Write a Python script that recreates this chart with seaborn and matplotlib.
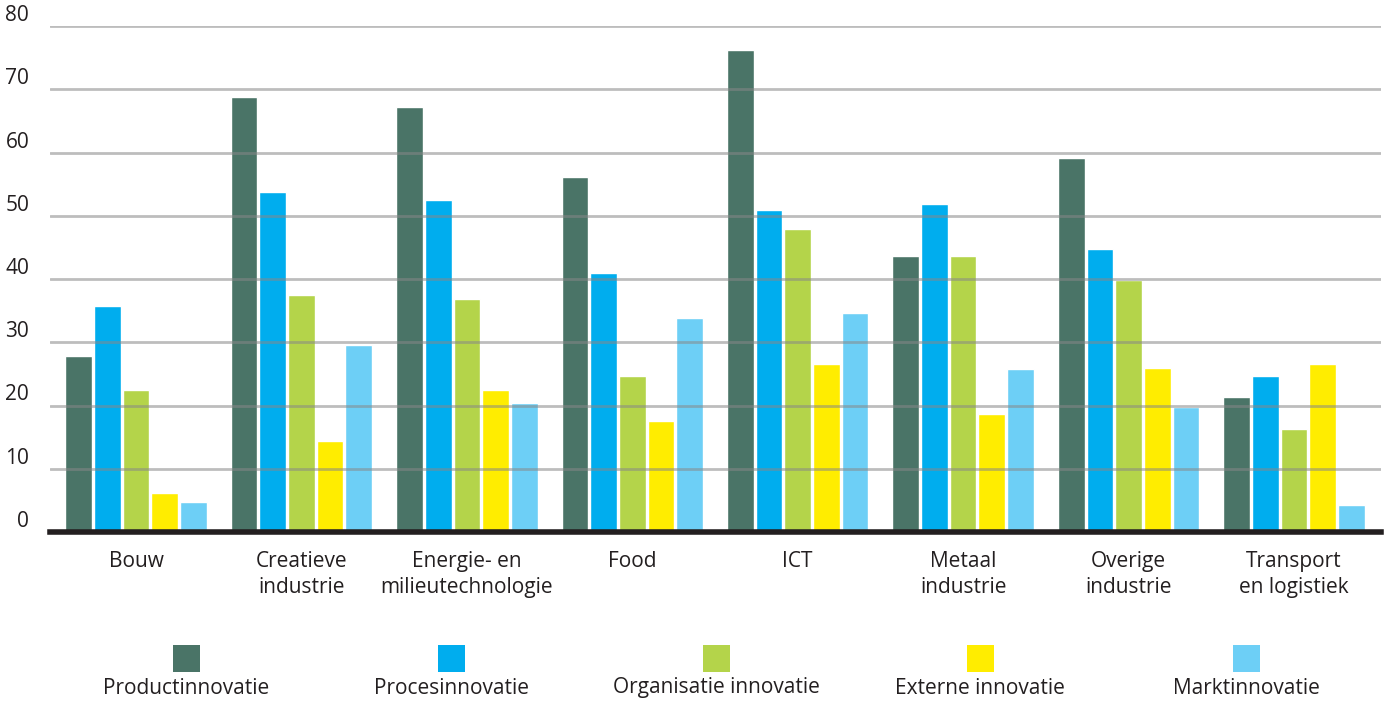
import matplotlib
matplotlib.use("Agg")
import matplotlib.pyplot as plt
from matplotlib.patches import Rectangle
import pandas as pd
import seaborn as sns

sns.set_theme(style="white")
plt.rcParams['font.family'] = ['Open Sans', 'DejaVu Sans']

# data
sectors = ["Bouw", "Creatieve\nindustrie", "Energie- en\nmilieutechnologie", "Food",
           "ICT", "Metaal\nindustrie", "Overige\nindustrie", "Transport\nen logistiek"]
series = ["Productinnovatie", "Procesinnovatie", "Organisatie innovatie",
          "Externe innovatie", "Marktinnovatie"]
product = [27.9, 68.8, 67.2, 56.1, 76.2, 43.7, 59.1, 21.4]
proces = [35.8, 53.7, 52.5, 40.9, 50.9, 51.8, 44.7, 24.7]
organisatie = [22.5, 37.4, 36.8, 24.7, 47.9, 43.7, 39.9, 16.3]
extern = [6.2, 14.4, 22.5, 17.6, 26.6, 18.7, 26.0, 26.6]
markt = [4.75, 29.6, 20.4, 33.9, 34.7, 25.8, 19.8, 4.3]
colors = ["#4a7467", "#00adee", "#b4d44a", "#ffed00", "#6dcff6"]

rows = []
for name, vals in zip(series, [product, proces, organisatie, extern, markt]):
    for s, v in zip(sectors, vals):
        rows.append({"sector": s, "serie": name, "waarde": v})
df = pd.DataFrame(rows)

fig = plt.figure(figsize=(13.87, 7.02), dpi=100)
ax = fig.add_axes([50 / 1387, 170 / 702, 1331 / 1387, 506 / 702])

sns.barplot(data=df, x="sector", y="waarde", hue="serie", hue_order=series,
            palette=colors, width=0.867, gap=0.07, ax=ax, legend=False,
            saturation=1, zorder=2)

ax.set_xlim(-0.52, 7.526)
ax.set_ylim(0, 80)
ax.set_yticks(range(0, 81, 10))
ax.yaxis.grid(True, color="#888888", alpha=0.55, linewidth=2, zorder=3)
ax.set_axisbelow(False)
for sp in ["top", "right", "left"]:
    ax.spines[sp].set_visible(False)
ax.spines["bottom"].set_color("#231f20")
ax.spines["bottom"].set_linewidth(4)
ax.spines["bottom"].set_zorder(5)

ax.set_xlabel("")
ax.set_ylabel("")
ax.tick_params(axis="x", length=0, pad=14, labelsize=15, labelcolor="#231f20")
ax.tick_params(axis="y", length=0, pad=15, labelsize=15, labelcolor="#231f20")
for lab in ax.get_yticklabels():
    lab.set_verticalalignment("bottom")
for lab in ax.get_xticklabels():
    lab.set_linespacing(1.3)

# legend: swatch above label
legend_x = [186, 451, 716, 980, 1246]
for xc, name, col in zip(legend_x, series, colors):
    fig.add_artist(Rectangle(((xc - 13.5) / 1387, (702 - 672) / 702), 27 / 1387, 27 / 702,
                             transform=fig.transFigure, facecolor=col, edgecolor="none"))
    fig.text(xc / 1387, (702 - 688) / 702, name, ha="center", va="center",
             fontsize=15, color="#231f20")

fig.savefig("out.png", dpi=100)
